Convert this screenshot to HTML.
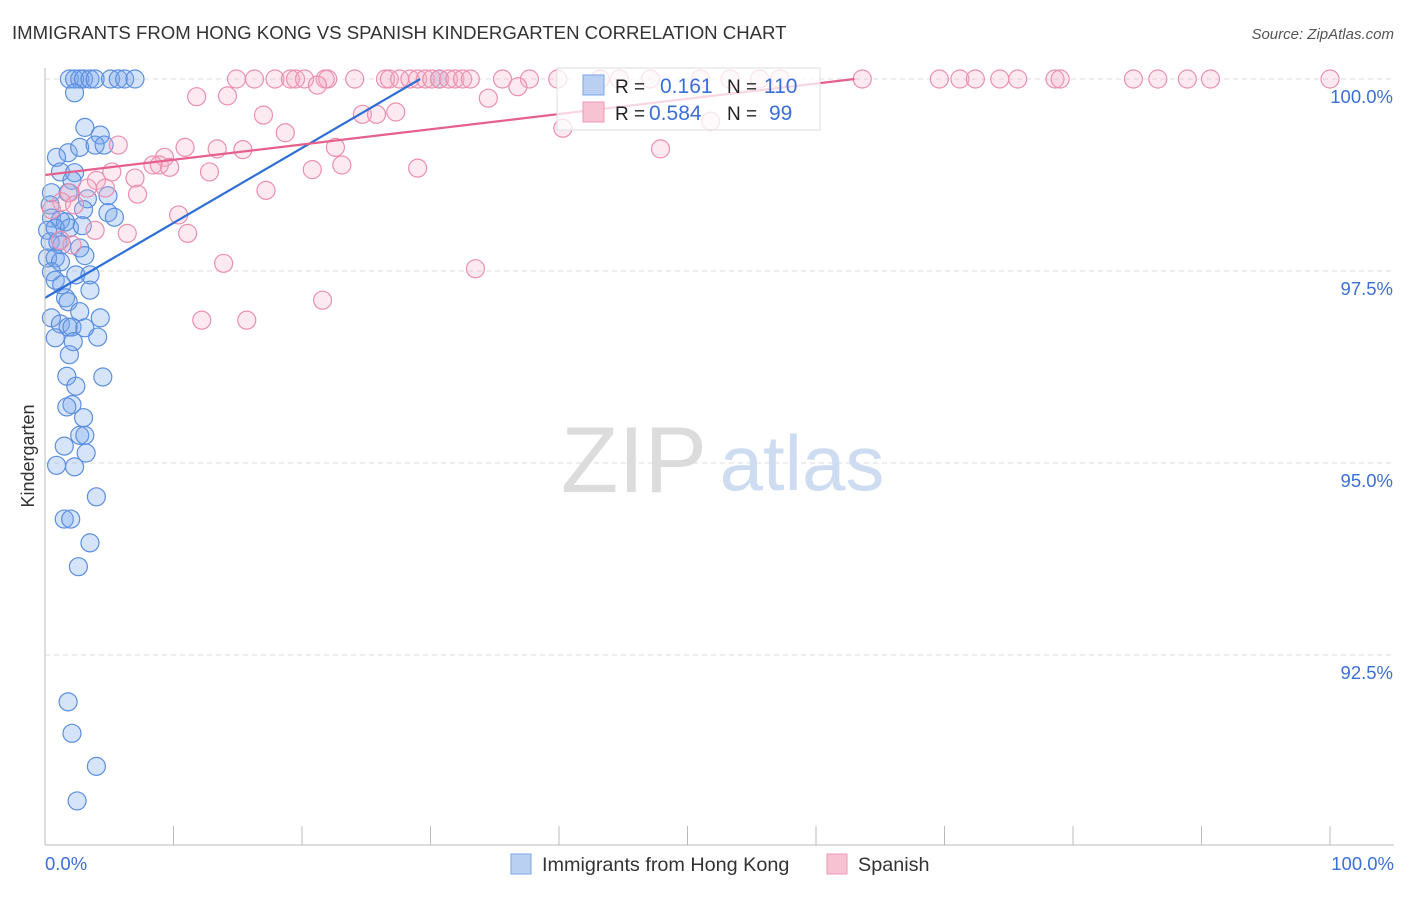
<!DOCTYPE html>
<html><head><meta charset="utf-8"><style>
body{margin:0;background:#fff;font-family:"Liberation Sans",sans-serif;}
svg text{font-family:"Liberation Sans",sans-serif;}
</style></head><body>
<svg id="chart" width="1406" height="892" viewBox="0 0 1406 892" xmlns="http://www.w3.org/2000/svg">
<text x="12" y="39" font-size="18.6" fill="#333">IMMIGRANTS FROM HONG KONG VS SPANISH KINDERGARTEN CORRELATION CHART</text>
<text x="1394" y="39" font-size="15" fill="#555" font-style="italic" text-anchor="end">Source: ZipAtlas.com</text>
<g id="grid"></g>
<text x="634" y="492" font-size="94" fill="#dcdcdc" font-family="Liberation Serif" text-anchor="middle">ZIP</text>
<text x="802" y="490" font-size="78" fill="#cddcf0" text-anchor="middle">atlas</text>
<g id="blue"></g>
<g id="pink"></g>
<g id="trends"></g>
<g id="axes"></g>
<text x="34" y="456" font-size="18" fill="#333" text-anchor="middle" transform="rotate(-90 34 456)">Kindergarten</text>
<g>
<rect x="557" y="68" width="263" height="62" fill="rgba(255,255,255,0.75)" stroke="#ddd"/>
<rect x="583" y="75" width="21" height="20" fill="#b9d0f2" stroke="#7aa6e8"/>
<text x="615" y="93" font-size="19" fill="#222">R = </text>
<text x="660" y="93" font-size="21" fill="#3a6fd8">0.161</text>
<text x="727" y="93" font-size="19" fill="#222">N = </text>
<text x="764" y="93" font-size="21" fill="#3a6fd8">110</text>
<rect x="583" y="102" width="21" height="20" fill="#f7c3d2" stroke="#ec9ab3"/>
<text x="615" y="120" font-size="19" fill="#222">R = </text>
<text x="649" y="120" font-size="21" fill="#3a6fd8">0.584</text>
<text x="727" y="120" font-size="19" fill="#222">N = </text>
<text x="769" y="120" font-size="21" fill="#3a6fd8">99</text>
</g>
<g>
<rect x="511" y="854" width="20" height="20" fill="#b9d0f2" stroke="#7aa6e8"/>
<text x="542" y="871" font-size="19.8" fill="#333">Immigrants from Hong Kong</text>
<rect x="827" y="854" width="20" height="20" fill="#f7c3d2" stroke="#ec9ab3"/>
<text x="858" y="871" font-size="19.8" fill="#333">Spanish</text>
</g>
</svg>
<script>
const blueX=[1.9,2.3,2.7,3.0,3.5,3.9,5.1,5.7,6.2,7.0,30.7,2.3,3.1,4.3,1.8,2.7,3.9,4.6,0.9,1.2,2.3,2.1,0.5,1.8,3.3,4.9,0.4,3.0,4.9,5.4,0.5,1.2,1.6,0.2,0.8,1.9,2.9,0.4,1.0,1.3,2.7,0.2,0.8,1.2,3.1,0.5,2.4,3.5,0.8,1.3,3.5,1.6,1.8,0.5,2.7,4.3,1.2,1.8,2.1,3.1,0.8,2.2,4.1,1.9,1.7,4.5,2.4,2.1,1.7,3.0,2.7,3.1,1.5,3.2,0.9,2.3,4.0,1.5,2.0,3.5,2.6,1.8,2.1,4.0,2.5];
const blueY=[100,100,100,100,100,100,100,100,100,100,100,99.82,99.37,99.27,99.04,99.11,99.14,99.14,98.98,98.79,98.78,98.68,98.52,98.52,98.44,98.48,98.36,98.30,98.26,98.20,98.19,98.16,98.14,98.03,98.06,98.06,98.09,97.88,97.88,97.84,97.80,97.67,97.67,97.62,97.70,97.49,97.45,97.45,97.38,97.32,97.25,97.15,97.10,96.89,96.97,96.89,96.81,96.77,96.77,96.76,96.63,96.58,96.64,96.41,96.13,96.12,96.00,95.76,95.73,95.59,95.36,95.36,95.22,95.13,94.97,94.95,94.56,94.27,94.27,93.96,93.65,91.89,91.48,91.05,90.60];
const pinkX=[14.9,16.3,17.9,19.1,19.5,20.2,21.8,22.0,24.1,26.5,26.8,27.6,28.4,29.0,29.6,30.1,30.7,31.4,31.9,32.5,33.1,35.6,37.7,39.9,43.2,44.7,47.1,51.0,53.3,55.6,57.2,63.6,69.6,71.2,72.4,74.3,75.7,78.6,79.0,84.7,86.6,88.9,90.7,100,11.8,14.2,21.2,34.5,36.8,17.0,24.7,25.8,27.3,18.7,40.3,5.7,10.9,13.4,15.4,22.6,47.9,9.3,8.4,8.9,9.7,5.2,12.8,20.8,23.1,29.0,4.0,7.0,3.3,4.7,1.9,7.2,17.2,1.3,2.3,0.5,10.4,3.9,6.4,11.1,1.2,2.1,13.9,33.5,21.6,12.2,15.7,51.8];
const pinkY=[100,100,100,100,100,100,100,100,100,100,100,100,100,100,100,100,100,100,100,100,100,100,100,100,100,100,100,100,100,100,100,100,100,100,100,100,100,100,100,100,100,100,100,100,99.77,99.78,99.92,99.75,99.90,99.53,99.54,99.54,99.57,99.30,99.36,99.14,99.11,99.09,99.08,99.11,99.09,98.98,98.88,98.88,98.85,98.79,98.79,98.82,98.88,98.84,98.68,98.71,98.58,98.58,98.52,98.50,98.55,98.40,98.36,98.30,98.23,98.03,97.99,97.99,97.90,97.84,97.60,97.53,97.12,96.86,96.86,99.45];
const blueTrendX=[0,29.2], blueTrendY=[97.15,100];
const pinkTrendX=[0,63.0], pinkTrendY=[98.75,100];
const yTickVals=[100,97.5,95,92.5];
const yTickLabels=["100.0%","97.5%","95.0%","92.5%"];
const xTickVals=[0,10,20,30,40,50,60,70,80,90,100];
const xEndLabels=["0.0%","100.0%"];

const NS="http://www.w3.org/2000/svg";
const xs=v=>45+v*12.85;
const ys=v=>79+(100-v)*76.8;
function mk(tag,attrs,parent){const e=document.createElementNS(NS,tag);for(const k in attrs)e.setAttribute(k,attrs[k]);document.getElementById(parent).appendChild(e);return e;}
yTickVals.forEach((v,i)=>{
  const l=mk('line',{x1:45,x2:1394,y1:ys(v),y2:ys(v),stroke:'#ddd','stroke-dasharray':'5,4'},'grid');
  
  
  const t=mk('text',{x:1393,y:ys(v)+24,'font-size':18.5,fill:'#3a6fd8','text-anchor':'end'},'grid');
  t.textContent=yTickLabels[i];
  
  
});
const ax=mk('line',{x1:45,x2:1394,y1:845,y2:845,stroke:'#bbb'},'axes');


const ay=mk('line',{x1:45,x2:45,y1:68,y2:845,stroke:'#bbb'},'axes');


xTickVals.forEach(v=>{
  const t=mk('line',{x1:xs(v),x2:xs(v),y1:826,y2:845,stroke:'#bbb'},'axes');
  
  
});
[[0,'start'],[100,'end']].forEach((p,i)=>{
  const t=mk('text',{x:i?1394:45,y:870,'font-size':18.5,fill:'#3a6fd8','text-anchor':p[1]},'axes');
  t.textContent=xEndLabels[i];
  
  
});
blueX.forEach((v,i)=>{
  const c=mk('circle',{cx:xs(v),cy:ys(blueY[i]),r:9,fill:'rgba(120,165,235,0.3)',stroke:'#5b8fe0','stroke-width':1.2},'blue');
  
  
});
pinkX.forEach((v,i)=>{
  const c=mk('circle',{cx:xs(v),cy:ys(pinkY[i]),r:9,fill:'rgba(245,170,195,0.25)',stroke:'#eb8fae','stroke-width':1.2},'pink');
  
  
});
const bl=mk('line',{x1:xs(blueTrendX[0]),y1:ys(blueTrendY[0]),x2:xs(blueTrendX[1]),y2:ys(blueTrendY[1]),stroke:'#2e6fd6','stroke-width':2.2},'trends');


const pl=mk('line',{x1:xs(pinkTrendX[0]),y1:ys(pinkTrendY[0]),x2:xs(pinkTrendX[1]),y2:ys(pinkTrendY[1]),stroke:'#e5608a','stroke-width':2.2},'trends');


</script>
</body></html>
